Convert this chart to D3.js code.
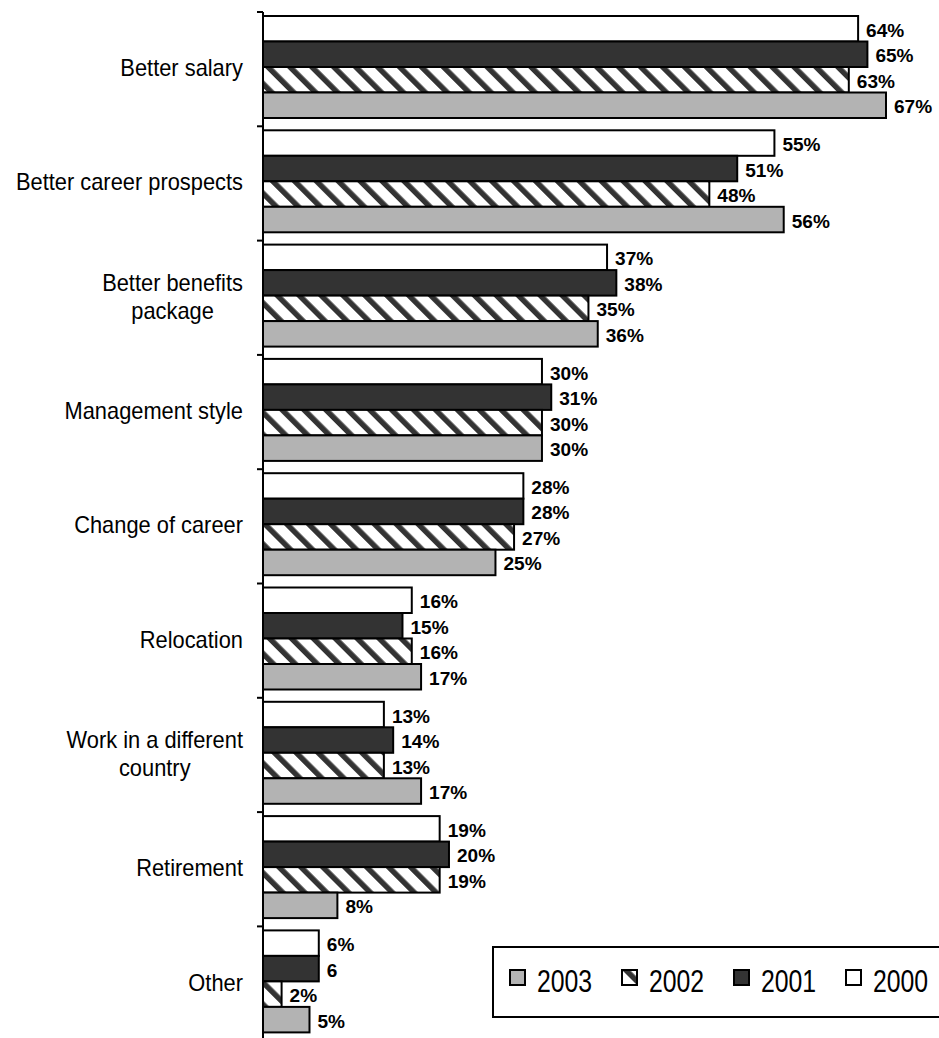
<!DOCTYPE html>
<html>
<head>
<meta charset="utf-8">
<script src="https://cdn.jsdelivr.net/npm/d3@7"></script>
<style>
  body { margin: 0; background: #fff; }
  svg { display: block; }
</style>
</head>
<body>
<script>
// chart data
var categories = [
  "Better salary",
  "Better career prospects",
  "Better benefits package",
  "Management style",
  "Change of career",
  "Relocation",
  "Work in a different country",
  "Retirement",
  "Other"
];
// how the category labels wrap
var labelLines = [
  ["Better salary"],
  ["Better career prospects"],
  ["Better benefits", "package"],
  ["Management style"],
  ["Change of career"],
  ["Relocation"],
  ["Work in a different", "country"],
  ["Retirement"],
  ["Other"]
];
var years = ["2000", "2001", "2002", "2003"];
var values2000 = [64, 55, 37, 30, 28, 16, 13, 19, 6];
var values2001 = [65, 51, 38, 31, 28, 15, 14, 20, 6];
var values2002 = [63, 48, 35, 30, 27, 16, 13, 19, 2];
var values2003 = [67, 56, 36, 30, 25, 17, 17, 8, 5];
// the one value label printed without a percent sign
var plainLabels = [["Other", "2001"]];
var legendOrder = ["2003", "2002", "2001", "2000"];

var svgWidth = 939;
var svgHeight = 1038;
var font = "Liberation Sans, Arial, sans-serif";

var svg = d3.select("body")
  .append("svg")
  .attr("width", svgWidth)
  .attr("height", svgHeight);

// hatch for 2002
var defs = svg.append("defs");
var pat = defs.append("pattern")
  .attr("id", "hatch")
  .attr("patternUnits", "userSpaceOnUse")
  .attr("width", 15.5)
  .attr("height", 15.5)
  .attr("patternTransform", "rotate(-45)");
pat.append("rect").attr("width", 15.5).attr("height", 15.5).attr("fill", "#fff");
pat.append("rect").attr("width", 5.5).attr("height", 15.5).attr("fill", "#333");

var fills = {
  "2000": "#ffffff",
  "2001": "#333333",
  "2002": "url(#hatch)",
  "2003": "#b3b3b3"
};

var seriesValues = {
  "2000": values2000,
  "2001": values2001,
  "2002": values2002,
  "2003": values2003
};

var axisX = 263;

var xScale = d3.scaleLinear()
  .domain([0, 67])
  .range([axisX, 886]);

var yScale = d3.scaleBand()
  .domain(categories)
  .range([12, 12 + 9 * 114.3]);

var yInner = d3.scaleBand()
  .domain(years)
  .range([4, 106]);

// flatten rows
var rows = [];
categories.forEach(function(c, i) {
  years.forEach(function(yr) {
    var v = seriesValues[yr][i];
    var plain = plainLabels.some(function(p) { return p[0] === c && p[1] === yr; });
    rows.push({ cat: c, year: yr, value: v, label: plain ? String(v) : v + "%" });
  });
});

var groups = svg.append("g");

groups.selectAll("rect.bar")
  .data(rows)
  .enter()
  .append("rect")
  .attr("class", "bar")
  .attr("x", xScale(0))
  .attr("y", function(d) { return yScale(d.cat) + yInner(d.year); })
  .attr("width", function(d) { return xScale(d.value) - xScale(0); })
  .attr("height", yInner.bandwidth())
  .attr("fill", function(d) { return fills[d.year]; })
  .attr("stroke", "#000")
  .attr("stroke-width", 2);

// value labels (a touch wide, like the original)
groups.selectAll("text.val")
  .data(rows)
  .enter()
  .append("text")
  .attr("class", "val")
  .attr("transform", function(d) {
    var x = xScale(d.value) + 8;
    var y = yScale(d.cat) + yInner(d.year) + yInner.bandwidth() / 2 + 8;
    return "translate(" + x + "," + y + ") scale(1.06,1)";
  })
  .attr("font-family", font)
  .attr("font-weight", "bold")
  .attr("font-size", 18)
  .text(function(d) { return d.label; });

// left axis: line + ticks at category boundaries
var yAxis = d3.axisLeft(yScale).tickSize(0).tickFormat("");
var axisG = svg.append("g")
  .attr("transform", "translate(" + axisX + ",0)")
  .call(yAxis);
axisG.select(".domain")
  .attr("d", "M0," + yScale.range()[0] + "V" + svgHeight)
  .attr("stroke", "#000")
  .attr("stroke-width", 2);

var bounds = categories.map(function(c) { return yScale(c); });
axisG.selectAll("line.bound")
  .data(bounds)
  .enter()
  .append("line")
  .attr("class", "bound")
  .attr("x1", -6)
  .attr("x2", 0)
  .attr("y1", function(d) { return d; })
  .attr("y2", function(d) { return d; })
  .attr("stroke", "#000")
  .attr("stroke-width", 2);

// category labels, centred lines in a right-aligned block
var sx = 0.95;
var labelG = svg.append("g");
categories.forEach(function(c, i) {
  var lines = labelLines[i];
  var cy = yScale(c) + yScale.bandwidth() / 2;
  var lh = 28;
  var top = cy - (lines.length - 1) * lh / 2 + 7;
  var t = labelG.append("text")
    .attr("font-family", font)
    .attr("font-size", 23)
    .attr("fill", "#000")
    .attr("text-anchor", "middle");
  lines.forEach(function(l, j) {
    t.append("tspan").attr("x", 0).attr("y", top + j * lh).text(l);
  });
  var w = 0;
  t.selectAll("tspan").each(function() { w = Math.max(w, this.getComputedTextLength()); });
  t.attr("transform", "translate(" + (243 - w * sx / 2) + ",0) scale(" + sx + ",1)");
});

// legend
var legend = svg.append("g");
legend.append("rect")
  .attr("x", 493)
  .attr("y", 947)
  .attr("width", 460)
  .attr("height", 70)
  .attr("fill", "#fff")
  .attr("stroke", "#000")
  .attr("stroke-width", 2);

var legendX = d3.scalePoint()
  .domain(legendOrder)
  .range([510, 846]);

var items = legend.selectAll("g.item")
  .data(legendOrder)
  .enter()
  .append("g")
  .attr("class", "item")
  .attr("transform", function(d) { return "translate(" + legendX(d) + ",970)"; });

items.append("rect")
  .attr("width", 15)
  .attr("height", 15)
  .attr("fill", function(d) { return fills[d]; })
  .attr("stroke", "#000")
  .attr("stroke-width", 2);

items.append("text")
  .attr("transform", "translate(27,22) scale(0.8,1)")
  .attr("font-family", font)
  .attr("font-size", 31)
  .text(function(d) { return d; });
</script>
</body>
</html>
